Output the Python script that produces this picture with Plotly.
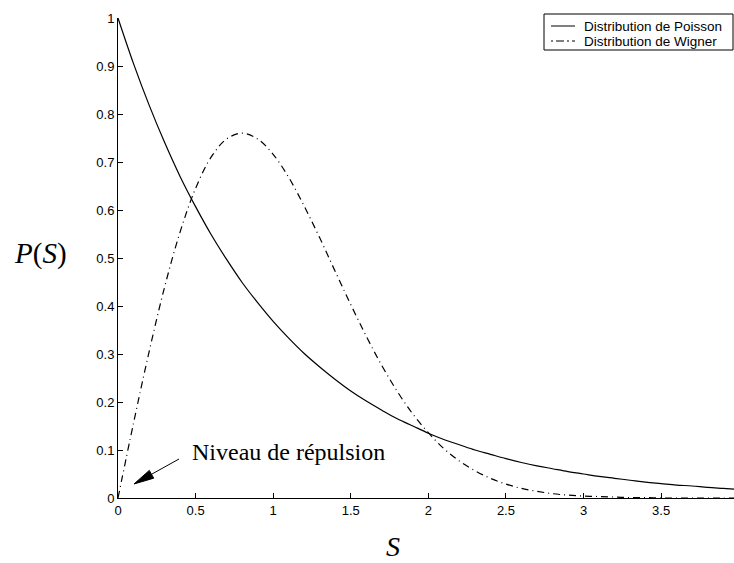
import plotly.graph_objects as go

S = [0.0, 0.1, 0.2, 0.3, 0.4, 0.5, 0.6, 0.7, 0.8, 0.9, 1.0, 1.1, 1.2, 1.3, 1.4, 1.5,
     1.6, 1.7, 1.8, 1.9, 2.0, 2.1, 2.2, 2.3, 2.4, 2.5, 2.6, 2.7, 2.8, 2.9, 3.0, 3.1,
     3.2, 3.3, 3.4, 3.5, 3.6, 3.7, 3.8, 3.9, 4.0]
poisson = [1.000, 0.905, 0.819, 0.741, 0.670, 0.607, 0.549, 0.497, 0.449, 0.407, 0.368,
           0.333, 0.301, 0.273, 0.247, 0.223, 0.202, 0.183, 0.165, 0.150, 0.135, 0.122,
           0.111, 0.100, 0.091, 0.082, 0.074, 0.067, 0.061, 0.055, 0.050, 0.045, 0.041,
           0.037, 0.033, 0.030, 0.027, 0.025, 0.022, 0.020, 0.018]
wigner = [0.000, 0.156, 0.304, 0.439, 0.554, 0.645, 0.710, 0.748, 0.760, 0.748, 0.716,
          0.668, 0.608, 0.542, 0.472, 0.403, 0.337, 0.276, 0.222, 0.175, 0.136, 0.103,
          0.077, 0.057, 0.041, 0.029, 0.020, 0.014, 0.009, 0.006, 0.004, 0.003, 0.002,
          0.001, 0.001, 0.000, 0.000, 0.000, 0.000, 0.000, 0.000]
series_names = ["Distribution de Poisson", "Distribution de Wigner"]
xticks = [0, 0.5, 1, 1.5, 2, 2.5, 3, 3.5]
xticklabels = ["0", "0.5", "1", "1.5", "2", "2.5", "3", "3.5"]
yticks = [0, 0.1, 0.2, 0.3, 0.4, 0.5, 0.6, 0.7, 0.8, 0.9, 1]
yticklabels = ["0", "0.1", "0.2", "0.3", "0.4", "0.5", "0.6", "0.7", "0.8", "0.9", "1"]

W, H = 734, 563
L, R, T, B = 118, 0, 18, 65
PW, PH = W - L - R, H - T - B


def px(x):
    return (x - L) / PW


def py(y):
    return (H - B - y) / PH


dashes = ["solid", "7px,4px,1px,4px"]
fig = go.Figure()
fig.add_trace(go.Scatter(x=S, y=poisson, mode="lines", name=series_names[0],
                         line=dict(color="black", width=1.2, shape="spline", dash=dashes[0])))
fig.add_trace(go.Scatter(x=S, y=wigner, mode="lines", name=series_names[1],
                         line=dict(color="black", width=1.2, shape="spline", dash=dashes[1])))

sans = "Liberation Sans, Arial, sans-serif"
serif = "Liberation Serif, Times New Roman, serif"

fig.update_layout(
    width=W, height=H,
    margin=dict(l=L, r=R, t=T, b=B),
    plot_bgcolor="white", paper_bgcolor="white",
    font=dict(family=sans, size=13, color="black"),
    showlegend=False,
    xaxis=dict(range=[0, 3.97], showgrid=False, zeroline=False, showline=True,
               linecolor="black", linewidth=1, ticks="inside", ticklen=5,
               tickcolor="black", tickvals=xticks, ticktext=xticklabels,
               tickfont=dict(family=sans, size=13)),
    yaxis=dict(range=[0, 1], showgrid=False, zeroline=False, showline=True,
               linecolor="black", linewidth=1, ticks="inside", ticklen=5,
               tickcolor="black", tickvals=yticks, ticktext=yticklabels,
               tickfont=dict(family=sans, size=13)),
)

# legend box drawn manually (compact, MATLAB style)
fig.add_shape(type="rect", xref="paper", yref="paper",
              x0=px(544), x1=px(733), y0=py(50), y1=py(14),
              line=dict(color="black", width=1), fillcolor="white", layer="above")
for i, (name, d) in enumerate(zip(series_names, dashes)):
    yy = py(26 + 15 * i)
    fig.add_shape(type="line", xref="paper", yref="paper",
                  x0=px(551), x1=px(575), y0=yy, y1=yy,
                  line=dict(color="black", width=1, dash=d if i == 0 else "2px,3px,8px,3px"),
                  layer="above")
    fig.add_annotation(x=px(582), y=yy, xref="paper", yref="paper", text=name,
                       xanchor="left", yanchor="middle", showarrow=False,
                       font=dict(family=sans, size=13.5, color="black"))

# arrow: shaft + filled head
fig.add_shape(type="line", xref="x", yref="y", x0=0.393, y0=0.0812,
              x1=0.2159, y1=0.0494, line=dict(color="black", width=1))
fig.add_shape(type="path", xref="x", yref="y",
              path="M 0.1031 0.0292 L 0.2301 0.04125 L 0.2017 0.0575 Z",
              fillcolor="black", line=dict(color="black", width=1))

fig.add_annotation(x=px(288), y=py(452), xref="paper", yref="paper",
                   text="Niveau de répulsion", xanchor="center", yanchor="middle",
                   showarrow=False, font=dict(family=serif, size=24, color="black"))
fig.add_annotation(x=px(40), y=py(253), xref="paper", yref="paper",
                   text="<i>P</i>(<i>S</i>)", xanchor="center", yanchor="middle",
                   showarrow=False, font=dict(family=serif, size=29, color="black"))
fig.add_annotation(x=px(393), y=py(546), xref="paper", yref="paper", text="<i>S</i>",
                   xanchor="center", yanchor="middle",
                   showarrow=False, font=dict(family=serif, size=28, color="black"))

fig.write_html("out.html")
